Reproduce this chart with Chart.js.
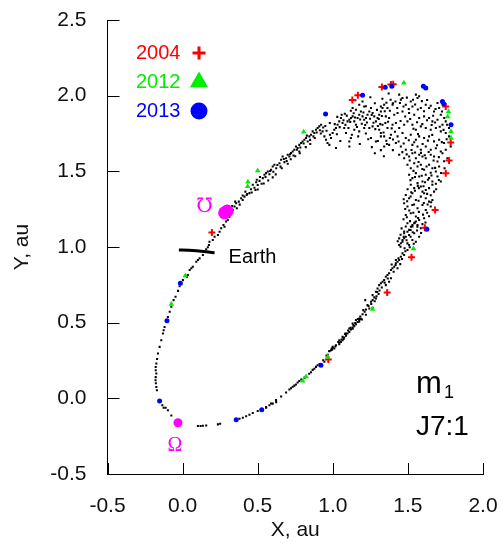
<!DOCTYPE html>
<html>
<head>
<meta charset="utf-8">
<script src="https://cdn.jsdelivr.net/npm/chart.js@4.4.1/dist/chart.umd.min.js"></script>
<style>
  html, body { margin: 0; padding: 0; background: #fff; }
  #wrap { width: 503px; height: 545px; position: relative; }
</style>
</head>
<body>
<div id="wrap"><canvas id="orbitChart" width="503" height="545"></canvas></div>
<script>
// Axis limits and ticks (au)
const xTicks = [-0.5, 0.0, 0.5, 1.0, 1.5, 2.0];
const yTicks = [-0.5, 0.0, 0.5, 1.0, 1.5, 2.0, 2.5];

// Stream particles, [x, y] in au
const loopDots = [
  [0.494,1.444],[0.5,1.41],[0.485,1.377],[0.445,1.356],[0.427,1.344],[0.412,1.333],[0.39,1.322],[0.4,1.311],
  [0.374,1.3],[0.357,1.289],[0.346,1.267],[0.361,1.256],[0.334,1.245],[0.323,1.223],[0.312,1.2],[0.301,1.179],
  [0.29,1.168],[0.272,1.146],[0.279,1.134],[0.257,1.124],[0.246,1.101],[0.235,1.079],[0.213,1.068],[0.201,1.046],
  [0.179,1.035],[0.175,1.013],[0.168,0.998],[0.157,0.985],[0.135,0.947],[0.113,0.925],[0.102,0.914],[0.091,0.903],
  [0.068,0.87],[0.058,0.859],[0.047,0.848],[0.035,0.815],[0.029,0.803],[0.002,0.781],[-0.02,0.74],[-0.03,0.71],
  [-0.047,0.671],[-0.06,0.649],[-0.075,0.605],[-0.086,0.572],[-0.098,0.538],[-0.12,0.472],[-0.126,0.45],[-0.131,0.428],
  [-0.142,0.384],[-0.153,0.34],[-0.164,0.296],[-0.17,0.26],[-0.175,0.23],[-0.179,0.207],[-0.179,0.185],[-0.175,0.164],
  [-0.179,0.14],[-0.18,0.12],[-0.178,0.1],[-0.175,0.075],[-0.171,0.053],[-0.135,-0.046],[-0.126,-0.062],[-0.113,-0.062],
  [-0.098,-0.079],[-0.075,-0.113],[0.102,-0.183],[0.12,-0.183],[0.135,-0.181],[0.157,-0.179],[0.235,-0.172],[0.25,-0.168],
  [0.379,-0.135],[0.401,-0.128],[0.423,-0.119],[0.445,-0.108],[0.467,-0.097],[0.5,-0.084],[0.556,-0.062],[0.578,-0.046],
  [0.6,-0.035],[0.623,-0.025]
];

const lowerBandDots = [
  [0.556,-0.058],[0.589,-0.034],[0.622,-0.011],[0.656,0.012],[0.689,0.039],[0.711,0.058],[0.733,0.076],[0.755,0.092],
  [0.777,0.115],[0.855,0.173],[0.877,0.196],[0.899,0.219],[0.944,0.242],[0.966,0.288],[0.977,0.311],[0.999,0.334],
  [1.043,0.368],[1.088,0.414],[1.132,0.46],[1.176,0.507],[1.22,0.552],[1.265,0.599],
  [0.977,0.313],[0.995,0.322],[1.01,0.329],[1.043,0.358],[1.054,0.373],[1.065,0.384],[1.076,0.402],[1.088,0.417],
  [1.098,0.428],[1.11,0.439],[1.121,0.455],[1.132,0.468],[1.143,0.477],[1.154,0.49],[1.165,0.505],[1.176,0.517],
  [1.187,0.525],[1.194,0.521],[1.203,0.583],[1.221,0.587],[1.243,0.594],[1.231,0.616],[1.254,0.638],[1.265,0.649],
  [1.276,0.667],[1.287,0.66],[1.291,0.675],[1.305,0.689],[1.309,0.748],[1.32,0.76],[1.331,0.77],[1.342,0.781],
  [1.353,0.803],[1.364,0.815],[1.375,0.826],[1.387,0.848],[1.397,0.859],[1.409,0.87],[1.42,0.892],[1.431,0.903],
  [1.442,0.914],[1.453,0.936],[1.464,0.958],[1.442,1.013],[1.453,1.025],[1.464,1.046],[1.475,1.058],[1.486,1.068],
  [1.475,1.091],[1.497,1.101],[1.508,1.113],[1.52,1.134],[1.53,1.146],[1.542,1.157],[1.553,1.168],[1.563,1.134],
  [1.508,1.013],[1.497,0.98],[1.475,0.947],[1.42,0.914],[1.431,0.859],[1.387,0.793],[1.375,0.77],[1.353,0.748],
  [1.298,0.726],[1.287,0.704],[1.265,0.682],[1.216,0.649],[1.176,0.528],[1.154,0.517],[1.132,0.495],[1.11,0.462],
  [1.088,0.428],[1.065,0.406],[1.043,0.384],[1.021,0.351],[0.999,0.34],[0.988,0.318],
  [1.392,0.884],[1.405,0.836],[1.418,0.881],[1.437,0.926],[1.449,0.887],[1.461,0.921],[1.483,0.972],[1.366,0.792],
  [1.346,0.764],[1.326,0.732],[1.311,0.712],[1.296,0.702],[1.279,0.641],[1.256,0.623],[1.238,0.61],[1.212,0.573],
  [1.198,0.556],[1.183,0.541],[1.167,0.524],[1.149,0.498],[1.137,0.484],[1.118,0.467],[1.102,0.448],[1.081,0.426],
  [1.072,0.392],[1.058,0.389],[1.036,0.372],[1.017,0.342],[0.992,0.327],[0.958,0.282],[0.936,0.251],[0.912,0.227],
  [0.888,0.208],[0.866,0.188],[0.843,0.162],[0.812,0.137],[0.79,0.124],[0.766,0.104],[0.744,0.084],[0.722,0.067]
];

const upperBandDots = [
  [0.467,1.411],[0.49,1.428],[0.512,1.437],[0.534,1.455],[0.545,1.477],[0.556,1.488],[0.567,1.499],[0.578,1.481],
  [0.589,1.51],[0.6,1.532],[0.611,1.543],[0.623,1.521],[0.645,1.554],[0.656,1.576],[0.666,1.598],[0.678,1.561],
  [0.689,1.587],[0.7,1.609],[0.711,1.598],[0.722,1.621],[0.733,1.631],[0.744,1.642],[0.755,1.664],[0.766,1.654],
  [0.777,1.631],[0.777,1.675],[0.789,1.687],[0.799,1.697],[0.811,1.709],[0.822,1.72],[0.833,1.697],[0.844,1.731],
  [0.855,1.742],[0.866,1.764],[0.877,1.753],[0.888,1.775],[0.899,1.786],[0.91,1.797],[0.922,1.808],[0.932,1.764],
  [0.944,1.731],[0.955,1.709],[0.965,1.687],[0.977,1.675],[0.988,1.72],[0.999,1.753],[1.01,1.775],[1.021,1.786],
  [1.032,1.808],[1.043,1.83],[1.054,1.852],[1.065,1.819],[1.076,1.786],[1.088,1.753],[1.098,1.83],[1.11,1.841],
  [1.121,1.852],[1.132,1.863],[1.143,1.83],[1.154,1.808],[1.165,1.852],[1.176,1.874],[1.187,1.896],[1.198,1.863],
  [1.209,1.841],[1.221,1.852],[1.231,1.874],[1.243,1.896],[1.254,1.919],[1.265,1.885],[1.276,1.863],[1.287,1.83],
  [1.298,1.852],[1.309,1.874],[1.32,1.896],[1.331,1.919],[1.021,1.654],[1.11,1.664],[1.132,1.919],[1.154,1.907],
  [1.176,1.94],[1.198,1.962],[1.209,1.929],[1.243,1.786],[1.254,1.72],[1.287,1.697],[1.11,1.697],[1.143,1.775],
  [1.176,1.764],[1.209,1.786],[1.265,1.797],[1.309,1.775],[1.32,1.731],
  [1.05,1.7],[1.12,1.72],[1.18,1.68],[1.22,1.75],[1.26,1.66],[1.3,1.8],[1.3,1.7],[1.28,1.62],
  [1.32,1.64],[1.34,1.6],[1.36,1.68],[1.38,1.72],[1.4,1.64],[1.35,1.82],[1.38,1.9],[1.4,1.95],
  [1.33,1.98],[1.28,1.95],[1.25,1.99],[1.22,1.93],[1.15,1.97],[1.12,1.9],[1.08,1.88],[1.03,1.86],
  [0.98,1.82],[0.95,1.8],[0.92,1.75],[0.88,1.72],[0.85,1.68],[0.82,1.66],[0.78,1.62],[0.75,1.6],
  [0.72,1.58],[0.7,1.55],[0.66,1.52],[0.62,1.48],[0.6,1.46],[0.57,1.44],[0.54,1.42],[0.5,1.38],
  [0.46,1.36],[0.43,1.35],[0.4,1.34],[0.38,1.28],[0.35,1.3],[0.33,1.27],[0.31,1.25],
  [1.013,1.812],[1.027,1.745],[1.046,1.792],[1.059,1.874],[1.071,1.838],[1.084,1.807],[1.093,1.868],[1.104,1.786],
  [1.116,1.826],[1.127,1.742],[1.139,1.884],[1.148,1.856],[1.161,1.793],[1.169,1.731],[1.182,1.842],[1.193,1.814],
  [1.204,1.889],[1.216,1.806],[1.227,1.823],[1.236,1.712],[1.248,1.848],[1.259,1.872],[1.271,1.821],[1.283,1.779],
  [1.294,1.906],[1.306,1.846],[1.316,1.812],[1.327,1.866],[1.338,1.756],[1.346,1.897],
  [0.552,1.463],[0.583,1.502],[0.604,1.497],[0.631,1.542],[0.652,1.531],[0.674,1.582],[0.693,1.568],[0.716,1.613],
  [0.738,1.604],[0.761,1.642],[0.784,1.658],[0.806,1.684],[0.827,1.736],[0.849,1.708],[0.871,1.731],[0.893,1.757],
  [0.914,1.772],[0.936,1.789],[0.958,1.768],[0.981,1.742],[0.515,1.462],[0.526,1.418],[0.478,1.392],[0.455,1.381],
  [0.418,1.366]
];

const clumpDots = [
  [1.32,1.929],[1.342,1.94],[1.364,1.918],[1.398,1.94],[1.442,2.007],[1.453,1.974],[1.464,1.985],[1.486,1.94],
  [1.519,1.962],[1.53,1.929],[1.553,2.007],[1.564,1.985],[1.575,1.996],[1.586,1.918],[1.619,1.94],[1.641,1.918],
  [1.674,1.896],[1.697,1.951],[1.708,1.918],[1.719,1.874],[1.353,1.863],[1.375,1.852],[1.409,1.874],[1.431,1.885],
  [1.464,1.896],[1.508,1.885],[1.542,1.874],[1.575,1.852],[1.608,1.863],[1.641,1.852],[1.663,1.83],[1.697,1.841],
  [1.73,1.808],[1.752,1.83],[1.331,1.808],[1.364,1.786],[1.398,1.808],[1.42,1.819],[1.442,1.786],[1.475,1.808],
  [1.497,1.83],[1.53,1.808],[1.553,1.775],[1.586,1.797],[1.619,1.786],[1.652,1.775],[1.686,1.786],[1.719,1.764],
  [1.752,1.753],[1.774,1.786],[1.32,1.753],[1.342,1.731],[1.387,1.742],[1.431,1.731],[1.464,1.753],[1.486,1.72],
  [1.519,1.742],[1.553,1.709],[1.575,1.731],[1.608,1.72],[1.641,1.731],[1.674,1.698],[1.708,1.709],[1.741,1.687],
  [1.774,1.731],[1.342,1.664],[1.375,1.675],[1.42,1.687],[1.453,1.664],[1.486,1.642],[1.53,1.675],[1.564,1.664],
  [1.586,1.642],[1.619,1.664],[1.652,1.642],[1.686,1.653],[1.719,1.631],[1.752,1.642],[1.785,1.664],[1.442,1.609],
  [1.475,1.587],[1.508,1.598],[1.53,1.62],[1.553,1.587],[1.575,1.609],[1.597,1.598],[1.619,1.587],[1.652,1.609],
  [1.674,1.598],[1.697,1.565],[1.73,1.62],[1.763,1.587],[1.497,1.543],[1.519,1.521],[1.542,1.554],[1.564,1.532],
  [1.586,1.543],[1.608,1.51],[1.641,1.543],[1.663,1.521],[1.686,1.499],[1.708,1.532],[1.508,1.477],[1.53,1.455],
  [1.553,1.488],[1.575,1.466],[1.597,1.433],[1.619,1.477],[1.641,1.455],[1.663,1.433],[1.697,1.466],[1.719,1.433],
  [1.519,1.411],[1.542,1.389],[1.564,1.422],[1.586,1.4],[1.597,1.366],[1.608,1.355],[1.619,1.377],[1.641,1.389],
  [1.663,1.411],[1.674,1.366],[1.486,1.344],[1.508,1.322],[1.53,1.355],[1.553,1.311],[1.586,1.333],[1.619,1.322],
  [1.641,1.3],[1.663,1.311],[1.475,1.289],[1.497,1.267],[1.53,1.278],[1.564,1.256],[1.597,1.278],[1.619,1.245],
  [1.652,1.267],[1.486,1.212],[1.519,1.223],[1.553,1.201],[1.575,1.179],[1.608,1.19],[1.497,1.157],[1.53,1.135],
  [1.564,1.146],[1.586,1.124],[1.475,1.102],[1.508,1.079],[1.542,1.091],[1.575,1.068],[1.442,1.057],[1.464,1.035],
  [1.497,1.024],[1.53,1.046],[1.553,1.035],
  [1.357,1.953],[1.372,2.014],[1.385,1.973],[1.417,1.962],[1.429,1.918],[1.447,1.952],[1.471,1.928],[1.493,1.987],
  [1.506,1.912],[1.534,1.973],[1.548,1.941],[1.566,1.908],[1.593,1.964],[1.607,1.897],[1.628,1.972],[1.652,1.934],
  [1.668,1.867],[1.684,1.912],[1.727,1.895],[1.742,1.852],
  [1.368,1.827],[1.392,1.784],[1.414,1.762],[1.451,1.833],[1.482,1.862],[1.515,1.846],[1.537,1.781],[1.561,1.824],
  [1.596,1.812],[1.627,1.837],[1.658,1.806],[1.681,1.823],[1.712,1.794],[1.737,1.774],[1.761,1.808],
  [1.356,1.702],[1.401,1.711],[1.438,1.697],[1.472,1.684],[1.506,1.706],[1.542,1.692],[1.567,1.746],[1.598,1.681],
  [1.633,1.703],[1.662,1.741],[1.694,1.672],[1.726,1.693],[1.758,1.712],
  [1.463,1.627],[1.492,1.612],[1.524,1.641],[1.548,1.624],[1.587,1.622],[1.612,1.606],[1.638,1.628],[1.671,1.572],
  [1.706,1.594],[1.741,1.566],
  [1.512,1.572],[1.537,1.503],[1.571,1.562],[1.596,1.516],[1.624,1.532],[1.652,1.491],[1.681,1.523],[1.721,1.489],
  [1.744,1.521],
  [1.517,1.442],[1.547,1.462],[1.566,1.404],[1.592,1.471],[1.614,1.428],[1.633,1.444],[1.657,1.472],[1.686,1.418],
  [1.706,1.443],
  [1.498,1.381],[1.522,1.362],[1.547,1.372],[1.573,1.389],[1.604,1.402],[1.628,1.351],[1.652,1.342],[1.688,1.381],
  [1.472,1.316],[1.495,1.302],[1.518,1.334],[1.541,1.281],[1.571,1.306],[1.606,1.291],[1.631,1.281],[1.655,1.296],
  [1.482,1.251],[1.509,1.241],[1.536,1.226],[1.573,1.232],[1.601,1.214],[1.628,1.226],[1.641,1.203],
  [1.471,1.184],[1.493,1.197],[1.514,1.171],[1.546,1.161],[1.568,1.191],[1.597,1.151],[1.617,1.162],
  [1.458,1.123],[1.486,1.136],[1.518,1.112],[1.532,1.098],[1.561,1.109],[1.588,1.092],
  [1.451,1.081],[1.472,1.067],[1.491,1.044],[1.518,1.068],[1.539,1.021],[1.432,1.038],[1.451,1.002],[1.478,0.992],
  [1.512,0.998]
];

// Observed particles by year
const dots2004 = [
  [1.327,2.058],[1.387,2.073],[1.402,2.075],[1.167,2.002],[1.13,1.971],[1.752,1.929],[1.785,1.691],[1.774,1.572],
  [1.752,1.488],[1.681,1.245],[1.613,1.128],[1.524,0.932],[1.362,0.7],[0.97,0.256],[0.195,1.095]
];
const dots2012 = [
  [1.473,2.084],[1.77,1.894],[1.765,1.861],[1.787,1.764],[1.787,1.72],[0.806,1.76],[0.5,1.505],[0.435,1.43],
  [0.433,1.4],[1.537,0.989],[1.265,0.589],[0.966,0.274],[0.822,0.143],[0.8,0.115],[0.018,0.81],[-0.075,0.623]
];
const dots2013 = [
  [1.198,2.002],[1.349,2.055],[1.393,2.062],[1.603,2.062],[1.619,2.051],[1.73,1.962],[1.739,1.945],[1.787,1.808],
  [0.952,1.879],[1.626,1.117],[0.921,0.219],[0.527,-0.075],[0.357,-0.141],[-0.153,-0.018],[-0.104,0.512],[-0.015,0.76]
];

// Nodes and the stretch of Earth's orbit
const ascendingNode = [[0.28,1.226],[0.297,1.238]];
const descendingNode = [[-0.031,-0.161]];
const earthArc = [[-0.025,0.98],[0.04,0.978],[0.091,0.975],[0.157,0.969],[0.213,0.962]];

const legendYears = ['2004', '2012', '2013'];
const legendColors = ['#ff0000', '#00ee00', '#0000ff'];
const legendShapes = ['cross', 'triangle', 'circle'];

const FONT = "'Liberation Sans', Arial, sans-serif";
const SERIF = "'Liberation Serif', 'DejaVu Serif', serif";

const toXY = arr => arr.map(([x, y]) => ({ x, y }));

// inward tick marks plus all the free text
const decorations = {
    id: 'decorations',
    afterDraw(chart) {
        const { ctx, chartArea: area, scales: { x, y } } = chart;
        ctx.save();

        ctx.strokeStyle = '#000';
        ctx.lineWidth = 1;
        ctx.beginPath();
        xTicks.forEach(v => {
            const px = Math.round(x.getPixelForValue(v)) + 0.5;
            ctx.moveTo(px, area.bottom);
            ctx.lineTo(px, area.bottom - 11);
        });
        yTicks.forEach(v => {
            const py = Math.round(y.getPixelForValue(v)) + 0.5;
            ctx.moveTo(area.left, py);
            ctx.lineTo(area.left + 12, py);
        });
        ctx.stroke();

        // legend
        ctx.font = `20px ${FONT}`;
        ctx.textBaseline = 'middle';
        ctx.textAlign = 'left';
        legendYears.forEach((year, i) => {
            const ly = 53 + i * 29;
            ctx.fillStyle = legendColors[i];
            ctx.fillText(year, 136, ly);
            ctx.strokeStyle = legendColors[i];
            ctx.lineWidth = 3;
            Chart.helpers.drawPoint(ctx, {
                pointStyle: legendShapes[i],
                radius: legendShapes[i] === 'triangle' ? 7.5 : (legendShapes[i] === 'cross' ? 6.5 : 7),
                borderWidth: 3
            }, 199, ly);
            if (legendShapes[i] !== 'cross') ctx.fill();
        });

        // Earth label, next to the end of the arc
        const eEnd = earthArc[earthArc.length - 1];
        ctx.fillStyle = '#000';
        ctx.font = `20px ${FONT}`;
        ctx.fillText('Earth', x.getPixelForValue(eEnd[0]) + 14, y.getPixelForValue(eEnd[1]) + 5);

        // node symbols
        ctx.fillStyle = '#ff00ff';
        ctx.textAlign = 'center';
        ctx.font = `20px ${SERIF}`;
        ctx.fillText('\u2127', x.getPixelForValue(ascendingNode[0][0]) - 20, y.getPixelForValue(ascendingNode[0][1]) - 6);
        ctx.fillText('\u03A9', x.getPixelForValue(descendingNode[0][0]) - 3, y.getPixelForValue(descendingNode[0][1]) + 23);

        // stream label
        ctx.fillStyle = '#000';
        ctx.textAlign = 'left';
        ctx.textBaseline = 'alphabetic';
        ctx.font = `31px ${FONT}`;
        ctx.fillText('m', area.right - 67, area.bottom - 81);
        ctx.font = `18px ${FONT}`;
        ctx.fillText('1', area.right - 39, area.bottom - 76);
        ctx.font = `28px ${FONT}`;
        ctx.fillText('J7:1', area.right - 67, area.bottom - 39);

        ctx.restore();
    }
};

const axisFont = { family: FONT, size: 21 };

new Chart(document.getElementById('orbitChart').getContext('2d'), {
    type: 'scatter',
    data: {
        datasets: [
            {
                data: toXY([...loopDots, ...lowerBandDots, ...upperBandDots, ...clumpDots]),
                pointStyle: 'rect',
                pointRadius: 1.45,
                pointBorderWidth: 0,
                backgroundColor: '#000',
                order: 6
            },
            {
                type: 'line',
                data: toXY(earthArc),
                borderColor: '#000',
                borderWidth: 3,
                pointRadius: 0,
                tension: 0.3,
                order: 5
            },
            {
                data: toXY(dots2004),
                pointStyle: 'cross',
                pointRadius: 3.5,
                borderColor: '#ff0000',
                pointBorderWidth: 2,
                order: 4
            },
            {
                data: toXY(dots2012),
                pointStyle: 'triangle',
                pointRadius: 3.2,
                backgroundColor: '#00ee00',
                borderColor: '#00ee00',
                pointBorderWidth: 0,
                order: 3
            },
            {
                data: toXY(dots2013),
                pointStyle: 'circle',
                pointRadius: 2.5,
                backgroundColor: '#0000ff',
                borderColor: '#0000ff',
                pointBorderWidth: 0,
                order: 2
            },
            {
                data: toXY(ascendingNode),
                pointRadius: 6.5,
                backgroundColor: '#ff00ff',
                pointBorderWidth: 0,
                order: 1
            },
            {
                data: toXY(descendingNode),
                pointRadius: 4.5,
                backgroundColor: '#ff00ff',
                pointBorderWidth: 0,
                order: 0
            }
        ]
    },
    options: {
        responsive: false,
        animation: false,
        events: [],
        layout: { padding: { left: 0, right: 20, top: 20, bottom: 0 } },
        plugins: {
            legend: { display: false },
            tooltip: { enabled: false }
        },
        scales: {
            x: {
                type: 'linear',
                min: -0.5,
                max: 2.0,
                afterBuildTicks: s => { s.ticks = xTicks.map(v => ({ value: v })); },
                afterFit: s => { s.height = 71; s.paddingLeft = 0; s.paddingRight = 0; },
                grid: { display: false },
                border: { display: true, color: '#000', width: 1 },
                ticks: {
                    color: '#111',
                    font: axisFont,
                    padding: 12,
                    maxRotation: 0,
                    callback: v => v.toFixed(1)
                },
                title: {
                    display: true,
                    text: 'X, au',
                    color: '#111',
                    font: axisFont,
                    padding: { top: 0, bottom: 2 }
                }
            },
            y: {
                type: 'linear',
                min: -0.5,
                max: 2.5,
                afterBuildTicks: s => { s.ticks = yTicks.map(v => ({ value: v })); },
                afterFit: s => { s.width = 107.5; s.paddingTop = 0; s.paddingBottom = 0; },
                grid: { display: false },
                border: { display: true, color: '#000', width: 1 },
                ticks: {
                    color: '#111',
                    font: axisFont,
                    padding: 13,
                    callback: v => v.toFixed(1)
                },
                title: {
                    display: true,
                    text: 'Y, au',
                    color: '#111',
                    font: axisFont,
                    padding: { top: 10, bottom: 0 }
                }
            }
        }
    },
    plugins: [decorations]
});
</script>
</body>
</html>
